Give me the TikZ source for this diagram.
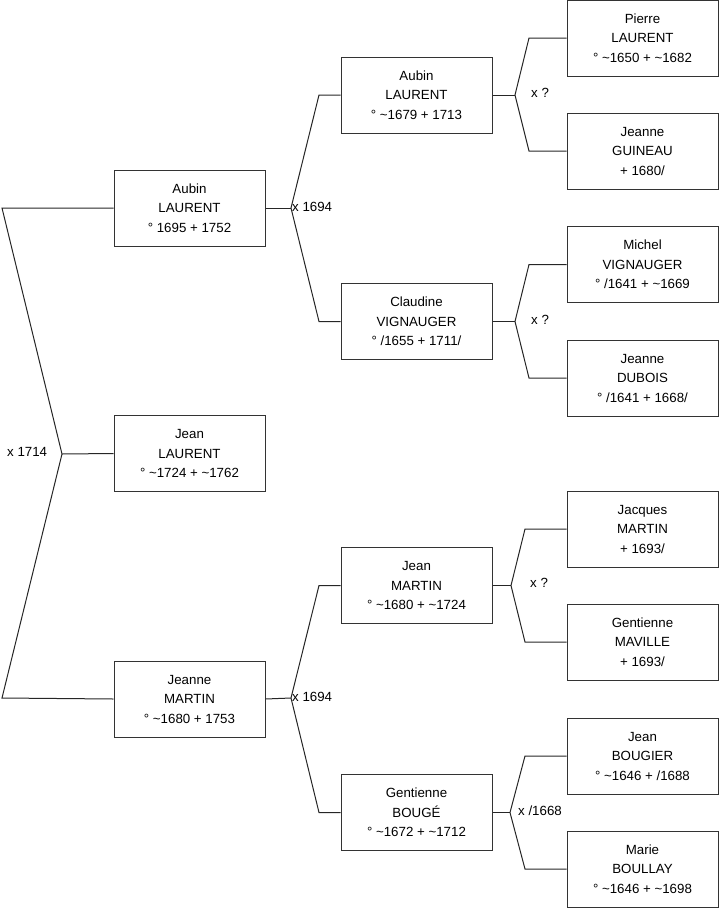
\documentclass[tikz,border=0pt]{standalone}
\usepackage{fontspec}
\setmainfont{Liberation Sans}

\begin{document}
\begin{tikzpicture}[x=1pt, y=-1pt,
 person/.style={draw=black!80, line width=1pt, align=center, minimum width=151pt, minimum height=76pt, inner sep=0pt, font=\fontsize{13.3}{19.5}\selectfont},
 link/.style={draw=black!85, line width=1pt},
 mar/.style={inner sep=0pt, font=\fontsize{13.3}{16}\selectfont}]
\useasboundingbox (0,0) rectangle (719,908);
% generation 0 and 1
\node[person] (p1) at (189.5,208) {Aubin\\LAURENT\\° 1695 + 1752};
\node[person] (p0) at (189.5,453.5) {Jean\\LAURENT\\° \textasciitilde1724 + \textasciitilde1762};
\node[person] (p2) at (189.5,699) {Jeanne\\MARTIN\\° \textasciitilde1680 + 1753};
% generation 2
\node[person] (p3) at (416.5,95) {Aubin\\LAURENT\\° \textasciitilde1679 + 1713};
\node[person] (p4) at (416.5,321.5) {Claudine\\VIGNAUGER\\° /1655 + 1711/};
\node[person] (p5) at (416.5,585.5) {Jean\\MARTIN\\° \textasciitilde1680 + \textasciitilde1724};
\node[person] (p6) at (416.5,812.5) {Gentienne\\BOUGÉ\\° \textasciitilde1672 + \textasciitilde1712};
% generation 3
\node[person] (p7) at (642.5,38) {Pierre\\LAURENT\\° \textasciitilde1650 + \textasciitilde1682};
\node[person] (p8) at (642.5,151) {Jeanne\\GUINEAU\\+ 1680/};
\node[person] (p9) at (642.5,264.5) {Michel\\VIGNAUGER\\° /1641 + \textasciitilde1669};
\node[person] (p10) at (642.5,378) {Jeanne\\DUBOIS\\° /1641 + 1668/};
\node[person] (p11) at (642.5,529) {Jacques\\MARTIN\\+ 1693/};
\node[person] (p12) at (642.5,642) {Gentienne\\MAVILLE\\+ 1693/};
\node[person] (p13) at (642.5,756) {Jean\\BOUGIER\\° \textasciitilde1646 + /1688};
\node[person] (p14) at (642.5,869) {Marie\\BOULLAY\\° \textasciitilde1646 + \textasciitilde1698};
% marriage forks
\coordinate (j1) at (62,454);
\coordinate (c1a) at (2,208);
\coordinate (c1b) at (2,698);
\coordinate (j2a) at (291,208);
\coordinate (c2a) at (319,95);
\coordinate (c2b) at (319,321.5);
\coordinate (j2b) at (291,698);
\coordinate (c2c) at (319,585.5);
\coordinate (c2d) at (319,812.5);
\coordinate (j3a) at (515,95);
\coordinate (c3a) at (529,38);
\coordinate (c3b) at (529,151);
\coordinate (j3b) at (515,321.5);
\coordinate (c3c) at (529,264.5);
\coordinate (c3d) at (529,378);
\coordinate (j3c) at (511,585.5);
\coordinate (c3e) at (525,529);
\coordinate (c3f) at (525,642);
\coordinate (j3d) at (510,812.5);
\coordinate (c3g) at (525,756);
\coordinate (c3h) at (525,869);
\node[mar, anchor=west] (m1) at (7,452) {x 1714};
\node[mar, anchor=west] (m2a) at (292,207) {x 1694};
\node[mar, anchor=west] (m2b) at (292,697) {x 1694};
\node[mar, anchor=west] (m3a) at (531,93) {x ?};
\node[mar, anchor=west] (m3b) at (531,320) {x ?};
\node[mar, anchor=west] (m3c) at (530,583) {x ?};
\node[mar, anchor=west] (m3d) at (518,811) {x /1668};
\draw[link] (p0.west) -- (j1);
\draw[link] (p1.west) -- (c1a) -- (j1) -- (c1b) -- (p2.west);
\draw[link] (p1.east) -- (j2a);
\draw[link] (p3.west) -- (c2a) -- (j2a) -- (c2b) -- (p4.west);
\draw[link] (p2.east) -- (j2b);
\draw[link] (p5.west) -- (c2c) -- (j2b) -- (c2d) -- (p6.west);
\draw[link] (p3.east) -- (j3a);
\draw[link] (p7.west) -- (c3a) -- (j3a) -- (c3b) -- (p8.west);
\draw[link] (p4.east) -- (j3b);
\draw[link] (p9.west) -- (c3c) -- (j3b) -- (c3d) -- (p10.west);
\draw[link] (p5.east) -- (j3c);
\draw[link] (p11.west) -- (c3e) -- (j3c) -- (c3f) -- (p12.west);
\draw[link] (p6.east) -- (j3d);
\draw[link] (p13.west) -- (c3g) -- (j3d) -- (c3h) -- (p14.west);
\end{tikzpicture}
\end{document}
